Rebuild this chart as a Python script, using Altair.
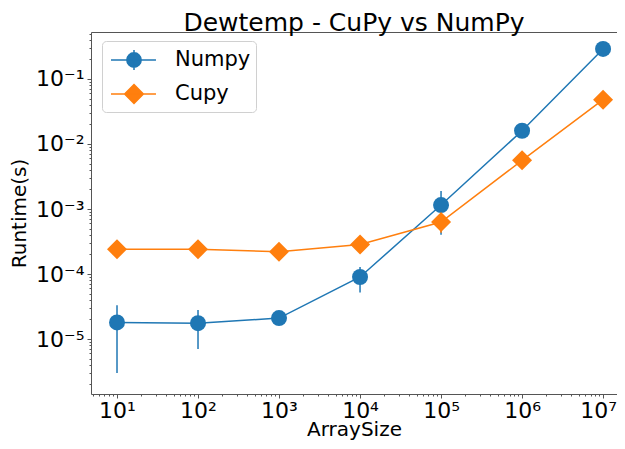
import altair as alt
import pandas as pd

# ---- data ----
sizes = [1e1, 1e2, 1e3, 1e4, 1e5, 1e6, 1e7]
numpy_mean = [1.8e-5, 1.75e-5, 2.1e-5, 9.0e-5, 1.15e-3, 1.6e-2, 0.29]
numpy_std = [1.5e-5, 1.05e-5, 1.5e-6, 3.8e-5, 7.5e-4, 1.0e-3, 5e-3]
cupy_mean = [2.4e-4, 2.4e-4, 2.2e-4, 2.85e-4, 6.3e-4, 5.6e-3, 4.8e-2]
cupy_std = [1e-5, 1e-5, 1e-5, 2e-5, 2.0e-4, 3e-4, 1e-3]
series_names = ["Numpy", "Cupy"]
colors = ["#1f77b4", "#ff7f0e"]

x_lo, x_hi = 10 ** 0.679, 10 ** 7.172
y_lo, y_hi = 10 ** -5.846, 10 ** -0.277

x_ticks = [m * 10.0 ** k for k in range(0, 8) for m in range(1, 10)]
x_ticks = [v for v in x_ticks if x_lo <= v <= x_hi]
y_ticks = [m * 10.0 ** k for k in range(-6, 0) for m in range(1, 10)]
y_ticks = [v for v in y_ticks if y_lo <= v <= y_hi]

rows = []
for name, means, stds in [("Numpy", numpy_mean, numpy_std), ("Cupy", cupy_mean, cupy_std)]:
    for s, m, d in zip(sizes, means, stds):
        rows.append({"size": s, "series": name, "mean": m, "lo": m - d, "hi": m + d})
df = pd.DataFrame(rows)

FONT = "DejaVu Sans"
is_major = "abs(log(datum.value)/LN10 - round(log(datum.value)/LN10)) < 0.001"
sup = "['⁰','¹','²','³','⁴','⁵','⁶','⁷','⁸']"

x_scale = alt.Scale(type="log", domain=[x_lo, x_hi], nice=False)
y_scale = alt.Scale(type="log", domain=[y_lo, y_hi], nice=False)

x_axis_main = alt.Axis(
    values=x_ticks, title="ArraySize", grid=False,
    labelExpr=f"{is_major} ? '10' + {sup}[round(log(datum.value)/LN10)] : ''",
    tickSize={"condition": {"test": is_major, "value": 4}, "value": 2},
    labelOffset={"condition": {"test": "datum.value > 5000000", "value": -5}, "value": 0},
    labelPadding=2, titlePadding=-2, labelFlush=False, labelOverlap=False,
)
y_axis_main = alt.Axis(
    values=y_ticks, title="Runtime(s)", grid=False,
    labelExpr=f"{is_major} ? '10⁻' + {sup}[-round(log(datum.value)/LN10)] : ''",
    tickSize={"condition": {"test": is_major, "value": 4}, "value": 2},
    labelPadding=3, titlePadding=6, labelFlush=False, labelOverlap=False,
)
x_axis_top = alt.Axis(orient="top", labels=False, ticks=False, title=None, grid=False, domain=True)


def X(axis=None):
    return alt.X("size:Q", scale=x_scale, axis=axis)


def Y(field="mean", axis=None):
    return alt.Y(f"{field}:Q", scale=y_scale, axis=axis)


layers = []
shapes = ["circle", "diamond"]
msizes = [256, 400]
for i, (name, color) in enumerate(zip(series_names, colors)):
    base = alt.Chart(df).transform_filter(alt.datum.series == name)
    line = base.mark_line(color=color, strokeWidth=1.5).encode(
        x=X(x_axis_top if i == 0 else None), y=Y())
    err = base.mark_rule(color=color, strokeWidth=1.5).encode(
        x=X(), y=Y("lo"), y2="hi:Q")
    pts = base.mark_point(filled=True, shape=shapes[i], size=msizes[i], color=color, opacity=1).encode(
        x=X(x_axis_main if i == 0 else None), y=Y(axis=y_axis_main if i == 0 else None))
    layers += [line, err, pts]

# legend symbols: line + marker (+ error bar) as custom paths
legend_paths = [
    "M-0.77,0L2.69,0M1.0,-0.77L1.0,0.77M1.55,0A0.55,0.55,0,1,1,0.45,0A0.55,0.55,0,1,1,1.55,0Z",
    "M-0.77,0L2.69,0M1.0,-0.72L1.72,0L1.0,0.72L0.28,0Z",
]
leg = alt.Legend(
    title=None, orient="none", legendX=11, legendY=9, padding=5,
    strokeColor="#d0d0d0", fillColor="white", cornerRadius=4,
    labelFont=FONT, labelFontSize=21, labelColor="black", labelOffset=40,
    labelExpr="datum.label + '\u2002'",
    symbolSize=676, symbolStrokeWidth=1.5, symbolOpacity=1, rowPadding=6,
)
legend_layer = alt.Chart(df).transform_filter("false").mark_point(
    filled=True, strokeWidth=1.5, opacity=1).encode(
    x=X(), y=Y(),
    shape=alt.Shape("series:N", scale=alt.Scale(domain=series_names, range=legend_paths), legend=leg),
    fill=alt.Fill("series:N", scale=alt.Scale(domain=series_names, range=colors), legend=leg),
    stroke=alt.Stroke("series:N", scale=alt.Scale(domain=series_names, range=colors), legend=leg),
)
layers.append(legend_layer)

chart = alt.layer(*layers).resolve_axis(
    x="independent", y="independent"
).properties(
    width=526, height=362,
    title=alt.Title("Dewtemp - CuPy vs NumPy", font=FONT, fontSize=25, fontWeight="normal",
                    color="black", anchor="middle", offset=-13),
    autosize=alt.AutoSizeParams(type="none"),
    padding={"left": 83, "top": 24, "right": 0, "bottom": 47},
).configure_view(stroke=None).configure_axis(
    labelFont=FONT, labelFontSize=22, labelColor="black",
    titleFont=FONT, titleFontSize=20, titleFontWeight="normal", titleColor="black",
    domainColor="#555", tickColor="#555", domainWidth=1, tickWidth=1,
)

chart.save("out.html", embed_options={"renderer": "svg", "actions": False})
